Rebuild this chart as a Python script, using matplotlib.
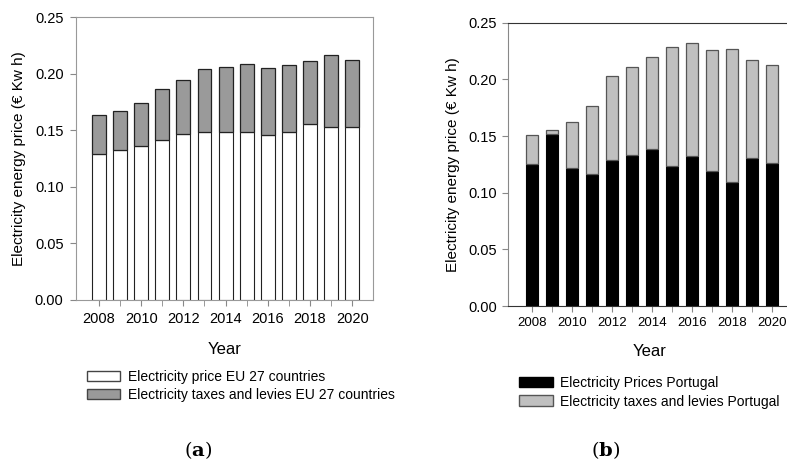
import matplotlib.pyplot as plt
from matplotlib.patches import Patch

plt.rcParams['font.family'] = ['Liberation Sans', 'DejaVu Sans']
plt.rcParams['mathtext.fontset'] = 'dejavuserif'

years = list(range(2008, 2021))

# EU 27 (panel a)
eu_price = [0.129, 0.133, 0.136, 0.1415, 0.1465, 0.149, 0.149, 0.1486, 0.1462, 0.149, 0.1557, 0.153, 0.1533]
eu_taxes = [0.0345, 0.0345, 0.0386, 0.0451, 0.0484, 0.0557, 0.0574, 0.0598, 0.0593, 0.0591, 0.056, 0.0637, 0.0593]

# Portugal (panel b)
pt_price = [0.1253, 0.1515, 0.1215, 0.1165, 0.1285, 0.1332, 0.1382, 0.1238, 0.1324, 0.1188, 0.1091, 0.1309, 0.1259]
pt_taxes = [0.0253, 0.0038, 0.0406, 0.0603, 0.0744, 0.0774, 0.0818, 0.105, 0.1, 0.1071, 0.118, 0.0859, 0.0865]

xticks = [2008, 2010, 2012, 2014, 2016, 2018, 2020]
yticks = [0.0, 0.05, 0.10, 0.15, 0.20, 0.25]
ylabel = 'Electricity energy price (€ Kw h)'

fig = plt.figure(figsize=(7.87, 4.68), dpi=100)

# ---- panel (a)
ax1 = fig.add_axes([0.0966, 0.359, 0.3774, 0.604])
ax1.bar(years, eu_price, width=0.66, color='white', edgecolor='#222222', linewidth=0.8)
ax1.bar(years, eu_taxes, bottom=eu_price, width=0.66, color='#9a9a9a',
        edgecolor='#222222', linewidth=0.9)
ax1.set_xlim(2006.91, 2020.99)
ax1.set_ylim(0, 0.25)
ax1.set_xticks(years, minor=True)
ax1.set_xticks(xticks)
ax1.set_yticks(yticks)
ax1.set_yticklabels(['%.2f' % v for v in yticks])
for s in ax1.spines.values():
    s.set_color('#999999')
ax1.tick_params(which='both', direction='out', length=4, color='#888888', pad=5)
ax1.tick_params(axis='both', labelsize=10.5)
ax1.set_xlabel('Year', fontsize=12, labelpad=11)
ax1.set_ylabel(ylabel, fontsize=11, labelpad=6)

fig.legend(handles=[Patch(facecolor='white', edgecolor='#444444', label='Electricity price EU 27 countries'),
                    Patch(facecolor='#9a9a9a', edgecolor='#444444', label='Electricity taxes and levies EU 27 countries')],
           loc='upper left', bbox_to_anchor=(0.103, 0.222), frameon=False, fontsize=10,
           handlelength=2.4, handleheight=0.8, labelspacing=0.3, handletextpad=0.55, borderaxespad=0)

# ---- panel (b)
ax2 = fig.add_axes([0.6455, 0.346, 0.36, 0.6055])
ax2.bar(years, pt_price, width=0.59, color='black', edgecolor='black', linewidth=0.8)
ax2.bar(years, pt_taxes, bottom=pt_price, width=0.59, color='#c0c0c0',
        edgecolor='#555555', linewidth=0.9)
ax2.set_xlim(2006.82, 2020.95)
ax2.set_ylim(0, 0.25)
ax2.set_xticks(years, minor=True)
ax2.set_xticks(xticks)
ax2.set_yticks(yticks)
ax2.set_yticklabels(['%.2f' % v for v in yticks])
ax2.spines['right'].set_visible(False)
ax2.spines['left'].set_color('#888888')
ax2.spines['top'].set_color('#333333')
ax2.spines['bottom'].set_color('#333333')
ax2.tick_params(which='both', direction='out', length=4, color='#888888', pad=4)
ax2.tick_params(axis='x', labelsize=9.5)
ax2.tick_params(axis='y', labelsize=10.5)
ax2.set_xlabel('Year', fontsize=12, labelpad=11)
ax2.set_ylabel(ylabel, fontsize=11, labelpad=6)

fig.legend(handles=[Patch(facecolor='black', edgecolor='black', label='Electricity Prices Portugal'),
                    Patch(facecolor='#c0c0c0', edgecolor='#555555', label='Electricity taxes and levies Portugal')],
           loc='upper left', bbox_to_anchor=(0.653, 0.209), frameon=False, fontsize=10,
           handlelength=2.4, handleheight=0.8, labelspacing=0.35, handletextpad=0.5, borderaxespad=0)

# panel letters
for x, letter in [(0.252, 'a'), (0.769, 'b')]:
    fig.text(x, 0.038, r'($\mathbf{%s}$)' % letter, family='DejaVu Serif', fontsize=14,
             ha='center', va='center')

fig.savefig('out.png', dpi=100)
